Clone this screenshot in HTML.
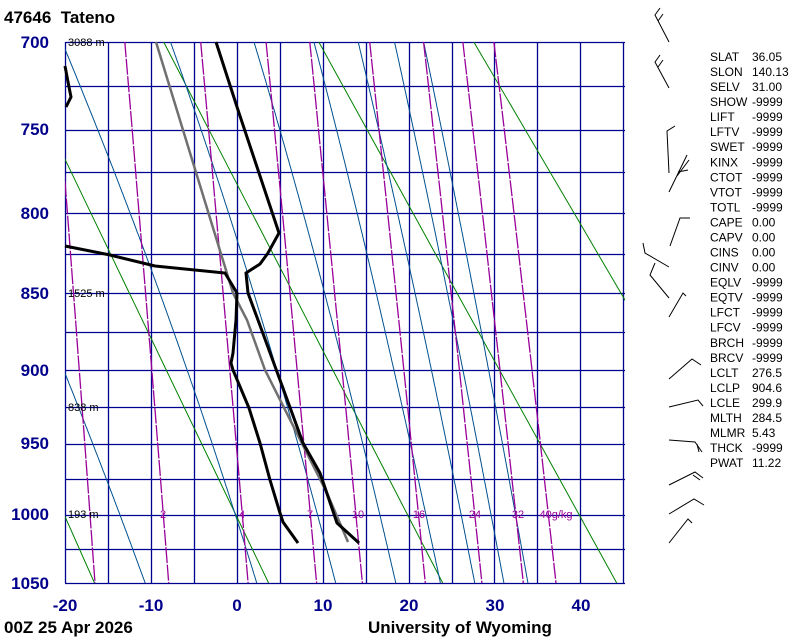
<!DOCTYPE html>
<html><head><meta charset="utf-8"><style>
html,body{margin:0;padding:0;background:#fff;width:800px;height:640px;overflow:hidden}
svg{display:block}
.pl{font:bold 17px "Liberation Sans",sans-serif;fill:#00008b}
.hl{font:11px "Liberation Sans",sans-serif;fill:#000}
.st{font:12px "Liberation Sans",sans-serif;fill:#000}
.ml{font:11px "Liberation Sans",sans-serif;fill:#990099}
.tt{font:bold 17px "Liberation Sans",sans-serif;fill:#000;white-space:pre}
</style></head><body>
<svg id="s" width="800" height="640" viewBox="0 0 800 640" xmlns="http://www.w3.org/2000/svg">
<defs><clipPath id="c"><rect x="65" y="42" width="560" height="541"/></clipPath></defs>
<g id="grid"></g>
<g id="lines" clip-path="url(#c)"></g>
<g id="data"></g>
<text class="tt" x="4" y="23" xml:space="preserve">47646  Tateno</text>
<g class="pl" text-anchor="end">
<text x="49" y="48">700</text><text x="49" y="135">750</text><text x="49" y="219">800</text><text x="49" y="299">850</text>
<text x="49" y="376">900</text><text x="49" y="449">950</text><text x="49" y="520">1000</text><text x="49" y="589">1050</text>
</g>
<g class="pl" text-anchor="middle">
<text x="65" y="611">-20</text><text x="151" y="611">-10</text><text x="237" y="611">0</text><text x="323" y="611">10</text>
<text x="409" y="611">20</text><text x="495" y="611">30</text><text x="581" y="611">40</text>
</g>
<text class="tt" x="4" y="633">00Z 25 Apr 2026</text>
<text class="tt" x="368" y="633">University of Wyoming</text>
<g class="hl"><text x="68" y="46">3088 m</text><text x="68" y="297">1525 m</text><text x="68" y="411">838 m</text><text x="68" y="518">193 m</text></g>
<g class="ml" text-anchor="middle">
<text x="163" y="518">2</text><text x="242" y="518">4</text><text x="310" y="518">7</text><text x="358" y="518">10</text>
<text x="419" y="518">16</text><text x="475" y="518">24</text><text x="518" y="518">32</text><text x="556" y="518">40g/kg</text>
</g>
<g class="st" id="stats"></g>
<g stroke="#000" stroke-width="1" fill="none">
<polyline points="669,42 655,15 660,8"/><line x1="658" y1="21" x2="663" y2="14"/>
<polyline points="669,88 655,62 660,55"/><line x1="658" y1="67" x2="663" y2="60"/>
<polyline points="669,173 667,131 675,126"/>
<polyline points="669,192 687,155"/><line x1="677" y1="176" x2="689" y2="160"/><line x1="678" y1="172" x2="688" y2="170"/>
<polyline points="670,246 680,218 690,218"/>
<polyline points="669,267 645,253 643,243"/>
<polyline points="669,298 650,275 655,263"/>
<polyline points="669,317 683,293 686,296"/>
<polyline points="669,379 692,359 701,365"/>
<polyline points="669,407 698,400 703,406"/>
<polyline points="669,440 695,442 702,452"/><line x1="697" y1="444" x2="699" y2="452"/>
<polyline points="669,485 695,472 703,478"/><line x1="693" y1="475" x2="700" y2="480"/>
<polyline points="669,514 694,499 704,505"/>
<polyline points="669,543 688,519 692,523"/>
</g>
</svg>
<script>
(function(){
var NS="http://www.w3.org/2000/svg",K=0.2857;
var a=Math.pow(700,K),b=Math.pow(1050,K);
function Y(p){return 42+541*(Math.pow(p,K)-a)/(b-a);}
function X(T){return 237+8.583*T;}
function el(par,tag,at){var e=document.createElementNS(NS,tag);for(var k in at)e.setAttribute(k,at[k]);document.getElementById(par).appendChild(e);return e;}
function poly(par,pts,st,w,dash){var s=pts.map(function(q){return q[0].toFixed(1)+","+q[1].toFixed(1)}).join(" ");var at={points:s,fill:"none",stroke:st,"stroke-width":w};if(dash)at["stroke-dasharray"]=dash;el(par,"polyline",at);}
for(var p=700;p<=1050;p+=25){var y=Math.round(Y(p))+0.5;el("grid","line",{x1:65,x2:625,y1:y,y2:y,stroke:"#00008f","stroke-width":1.3});}
for(var T=-20;T<=45;T+=5){var x=Math.round(X(T))+0.5;el("grid","line",{x1:x,x2:x,y1:42,y2:583,stroke:"#00008f","stroke-width":1.3});}
for(var th=233;th<=393;th+=20){var pts=[];for(var p=700;p<=1050;p+=50){pts.push([X(th*Math.pow(p/1000,K)-273.15),Y(p)]);}poly("lines",pts,"#008000",1);}
function es(T){return 6.112*Math.exp(17.67*T/(T+243.5));}
var starts=[-10.7,2.3,11.5,18.5,23.7,27.7,31.1,33.9];
starts.forEach(function(T0){var T=T0+273.15,pts=[];for(var p=1050;p>=690;p-=1){pts.push([X(T-273.15),Y(p)]);var e=es(T-273.15),rs=0.622*e/(p-e);var Lv=2.5e6,Rd=287,cp=1005;var dTdp=(Rd*T+Lv*rs)/(p*(cp+Lv*Lv*rs*0.622/(Rd*T*T)));T-=dTdp;}poly("lines",pts,"#00508f",1);});
[1,2,4,7,10,16,24,32,40].forEach(function(w){var pts=[];for(var p=690;p<=1050;p+=20){var e=w*p/(622+w),l=Math.log(e/6.112);var T=243.5*l/(17.67-l);pts.push([X(T),Y(p)]);}poly("lines",pts,"#990099",1.3,"16,1.5");});
poly("data",[[156,42],[233,293],[247,320],[265,370],[327,493],[348,542]],"#707070",2.5);
poly("data",[[216,42],[238,110],[279,233],[268,253],[260,264],[246,273],[248,293],[258,320],[280,380],[303,443],[320,473],[337,523],[348,533],[359,543]],"#000",3);
poly("data",[[65,66],[69,87],[71,97],[66,107]],"#000",3);
poly("data",[[65,246],[110,255],[155,266],[225,273],[237,293],[236,320],[233,353],[231,363],[233,370],[249,408],[260,443],[270,480],[280,513],[283,522],[298,543]],"#000",3);
var S=[["SLAT","36.05"],["SLON","140.13"],["SELV","31.00"],["SHOW","-9999"],["LIFT","-9999"],["LFTV","-9999"],["SWET","-9999"],["KINX","-9999"],["CTOT","-9999"],["VTOT","-9999"],["TOTL","-9999"],["CAPE","0.00"],["CAPV","0.00"],["CINS","0.00"],["CINV","0.00"],["EQLV","-9999"],["EQTV","-9999"],["LFCT","-9999"],["LFCV","-9999"],["BRCH","-9999"],["BRCV","-9999"],["LCLT","276.5"],["LCLP","904.6"],["LCLE","299.9"],["MLTH","284.5"],["MLMR","5.43"],["THCK","-9999"],["PWAT","11.22"]];
S.forEach(function(r,i){var y=61+i*15.04;var t=el("stats","text",{x:710,y:y.toFixed(1)});t.textContent=r[0];var v=el("stats","text",{x:752,y:y.toFixed(1)});v.textContent=r[1];});
})();
</script>
</body></html>
